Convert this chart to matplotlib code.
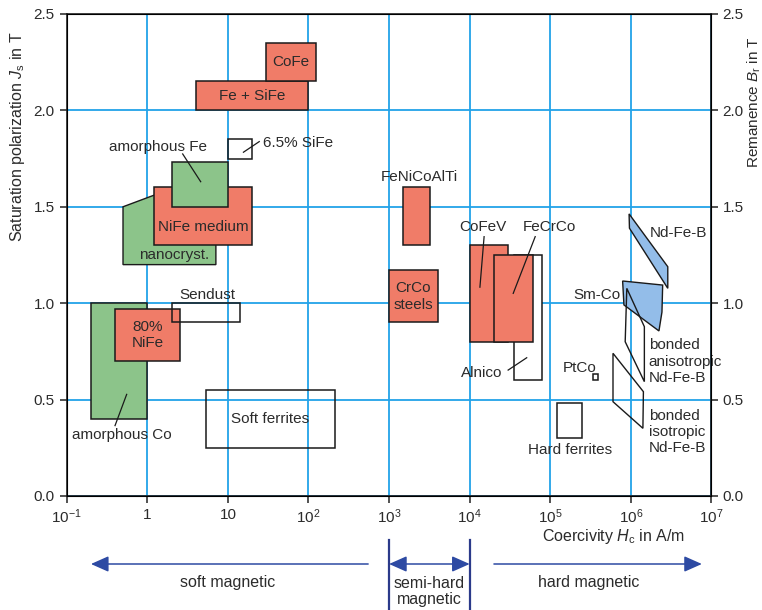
import matplotlib
matplotlib.use("Agg")
import matplotlib.pyplot as plt
from matplotlib.patches import Polygon, Rectangle, FancyArrowPatch
from matplotlib.lines import Line2D
from matplotlib import transforms

plt.rcParams['font.family'] = ['Liberation Sans', 'DejaVu Sans']
plt.rcParams['mathtext.fontset'] = 'custom'
plt.rcParams['mathtext.rm'] = 'Liberation Sans'
plt.rcParams['mathtext.it'] = 'Liberation Sans:italic'

TXT = '#2b2b2b'
RED = '#f07c68'
GREEN = '#8cc48a'
BLUE = '#93bde9'
GRID = '#22a2e8'

# Coercivity H_c (A/m) and polarization J (T) ranges of the material groups
# crystalline alloys (red)
red_names = ["Fe + SiFe", "CoFe", "NiFe medium", "80%\nNiFe",
             "FeNiCoAlTi", "CrCo\nsteels", "CoFeV", "FeCrCo"]
red_hc_lo = [4.0, 30.0, 1.21, 0.40, 1500, 1000, 1.0e4, 2.0e4]
red_hc_hi = [100.0, 123.0, 20.0, 2.55, 3200, 4000, 3.0e4, 6.1e4]
red_j_lo = [2.00, 2.15, 1.30, 0.70, 1.30, 0.90, 0.80, 0.80]
red_j_hi = [2.15, 2.35, 1.60, 0.97, 1.60, 1.17, 1.30, 1.25]

# amorphous / nanocrystalline (green)
amorph_fe_hc = [2.03, 10.0]
amorph_fe_j = [1.50, 1.73]
amorph_co_hc = [0.20, 1.0]
amorph_co_j = [0.40, 1.00]
nanocryst_hc = [0.5, 0.5, 1.21, 7.1, 7.1]
nanocryst_j = [1.20, 1.50, 1.56, 1.56, 1.20]

# open boxes
box_names = ["6.5% SiFe", "Sendust", "Soft ferrites", "Alnico", "Hard ferrites", "PtCo"]
box_hc_lo = [10.0, 2.03, 5.35, 3.5e4, 1.2e5, 3.4e5]
box_hc_hi = [20.0, 14.0, 213.0, 8.0e4, 2.5e5, 3.9e5]
box_j_lo = [1.75, 0.90, 0.25, 0.60, 0.30, 0.60]
box_j_hi = [1.85, 1.00, 0.55, 1.25, 0.48, 0.633]

# rare-earth magnets
ndfeb_hc = [9.5e5, 9.6e5, 2.87e6, 2.87e6]
ndfeb_j = [1.463, 1.389, 1.077, 1.189]
smco_hc = [7.9e5, 2.48e6, 2.43e6, 2.23e6, 8.2e5]
smco_j = [1.115, 1.094, 0.954, 0.856, 0.991]
bonded_aniso_hc = [8.9e5, 1.47e6, 1.47e6, 8.5e5]
bonded_aniso_j = [1.077, 0.878, 0.593, 0.80]
bonded_iso_hc = [6.0e5, 1.43e6, 1.41e6, 6.0e5]
bonded_iso_j = [0.74, 0.541, 0.351, 0.489]

x_ticks = [1e-1, 1, 10, 1e2, 1e3, 1e4, 1e5, 1e6, 1e7]
x_ticklabels = ['10$^{-1}$', '1', '10', '10$^{2}$', '10$^{3}$', '10$^{4}$',
                '10$^{5}$', '10$^{6}$', '10$^{7}$']
y_ticks = [0.0, 0.5, 1.0, 1.5, 2.0, 2.5]

fig = plt.figure(figsize=(7.62, 6.10), dpi=100)
ax = fig.add_axes([0.0875, 0.1869, 0.8462, 0.7902])
ax.set_xscale('log')
ax.set_xlim(1e-1, 1e7)
ax.set_ylim(0, 2.5)
ax.set_xticks(x_ticks)
ax.set_xticklabels(x_ticklabels)
ax.minorticks_off()
ax.set_yticks(y_ticks)
ax.set_yticklabels(['%.1f' % v for v in y_ticks])
ax.grid(True, color=GRID, lw=1.3, zorder=0)
ax.set_axisbelow(True)
for s in ax.spines.values():
    s.set_linewidth(1.2)
    s.set_color('#222222')
ax.tick_params(direction='out', length=5, width=1.1, labelsize=11,
               labelcolor=TXT, color='#222222')

ax2 = ax.twinx()
ax2.set_ylim(0, 2.5)
ax2.set_yticks(y_ticks)
ax2.set_yticklabels(['%.1f' % v for v in y_ticks])
ax2.tick_params(direction='out', length=5, width=1.1, labelsize=11, pad=3,
                labelcolor=TXT, color='#222222')


def rect(h0, h1, j0, j1, fc, z):
    ax.add_patch(Rectangle((h0, j0), h1 - h0, j1 - j0, facecolor=fc,
                           edgecolor='#1a1a1a', lw=1.1, zorder=z))


def poly(hs, js, fc, z):
    fill = fc is not None
    ax.add_patch(Polygon(list(zip(hs, js)), closed=True, fill=fill,
                         facecolor=fc if fill else 'none',
                         edgecolor='#1a1a1a', lw=1.0, zorder=z))


# green regions
poly(nanocryst_hc, nanocryst_j, GREEN, 2)
rect(amorph_co_hc[0], amorph_co_hc[1], amorph_co_j[0], amorph_co_j[1], GREEN, 2)

# Alnico box sits behind FeCrCo
i = box_names.index("Alnico")
rect(box_hc_lo[i], box_hc_hi[i], box_j_lo[i], box_j_hi[i], 'white', 2)

for k in range(len(red_names)):
    rect(red_hc_lo[k], red_hc_hi[k], red_j_lo[k], red_j_hi[k], RED, 3 + 0.01 * k)

rect(amorph_fe_hc[0], amorph_fe_hc[1], amorph_fe_j[0], amorph_fe_j[1], GREEN, 4)

for k, name in enumerate(box_names):
    if name == "Alnico":
        continue
    ax.add_patch(Rectangle((box_hc_lo[k], box_j_lo[k]), box_hc_hi[k] - box_hc_lo[k],
                           box_j_hi[k] - box_j_lo[k], fill=False,
                           edgecolor='#1a1a1a', lw=1.1, zorder=5))

poly(ndfeb_hc, ndfeb_j, BLUE, 4)
poly(smco_hc, smco_j, BLUE, 4)
poly(bonded_aniso_hc, bonded_aniso_j, None, 5)
poly(bonded_iso_hc, bonded_iso_j, None, 5)

fs = 11


def label(x, y, s, ha='center', va='center'):
    ax.text(x, y, s, ha=ha, va=va, fontsize=fs, color=TXT, zorder=7,
            linespacing=1.2)


def leader(x0, y0, x1, y1):
    ax.plot([x0, x1], [y0, y1], color='#1a1a1a', lw=0.9, zorder=6)


# labels inside the filled boxes
for k, name in enumerate(red_names):
    if name in ("FeNiCoAlTi", "CoFeV", "FeCrCo", "NiFe medium"):
        continue
    xc = (red_hc_lo[k] * red_hc_hi[k]) ** 0.5
    yc = 0.5 * (red_j_lo[k] + red_j_hi[k])
    label(xc, yc, name)
label(4.9, 1.397, "NiFe medium")
label(2.14, 1.25, "nanocryst.")
label(2350, 1.655, "FeNiCoAlTi")

label(27.5, 1.83, "6.5% SiFe", ha='left')
leader(24.5, 1.838, 15.6, 1.783)
label(1.36, 1.81, "amorphous Fe")
leader(2.75, 1.774, 4.6, 1.63)
label(5.5, 1.043, "Sendust")
label(0.49, 0.316, "amorphous Co")
leader(0.398, 0.365, 0.555, 0.527)
label(33.8, 0.40, "Soft ferrites")

label(1.47e4, 1.395, "CoFeV")
leader(1.51e4, 1.345, 1.34e4, 1.083)
label(9.8e4, 1.395, "FeCrCo")
leader(6.5e4, 1.345, 3.47e4, 1.051)
label(1.41e4, 0.636, "Alnico")
leader(3.0e4, 0.653, 5.1e4, 0.717)
label(1.75e5, 0.239, "Hard ferrites")
label(2.34e5, 0.665, "PtCo")
label(3.85e6, 1.363, "Nd-Fe-B")
label(7.4e5, 1.043, "Sm-Co", ha='right')
label(1.67e6, 0.697, "bonded\nanisotropic\nNd-Fe-B", ha='left')
label(1.67e6, 0.333, "bonded\nisotropic\nNd-Fe-B", ha='left')

# axis titles
fig.text(18 / 762, 1 - 137 / 610, r'Saturation polarization $J_\mathrm{s}$ in T',
         rotation=90, ha='center', va='center', fontsize=11.5, color=TXT)
fig.text(754 / 762, 1 - 102 / 610, r'Remanence $B_\mathrm{r}$ in T',
         rotation=90, ha='center', va='center', fontsize=11, color=TXT)
fig.text(613 / 762, 1 - 537 / 610, r'Coercivity $H_\mathrm{c}$ in A/m',
         ha='center', va='center', fontsize=11.5, color=TXT)

# magnetic classes below the axis
blend = transforms.blended_transform_factory(ax.transData, fig.transFigure)
ARROW = '#2d4aa3'
y_arr = 1 - 564 / 610
y_txt = 1 - 583 / 610
arrow_kw = dict(transform=blend, color=ARROW, lw=1.1, mutation_scale=12,
                clip_on=False)
fig.add_artist(FancyArrowPatch((550, y_arr), (0.2, y_arr),
                               arrowstyle='-|>,head_length=0.9,head_width=0.4',
                               shrinkA=0, shrinkB=0, **arrow_kw))
fig.add_artist(FancyArrowPatch((2.0e4, y_arr), (7.6e6, y_arr),
                               arrowstyle='-|>,head_length=0.9,head_width=0.4',
                               shrinkA=0, shrinkB=0, **arrow_kw))
fig.add_artist(FancyArrowPatch((1e3, y_arr), (1e4, y_arr),
                               arrowstyle='<|-|>,head_length=0.9,head_width=0.4',
                               shrinkA=0, shrinkB=0, **arrow_kw))
for xv in (1e3, 1e4):
    fig.add_artist(Line2D([xv, xv], [0, 1 - 540 / 610], transform=blend,
                          color='#2b3a8a', lw=1.6))

ax.text(10, y_txt, 'soft magnetic', transform=blend, ha='center', va='center',
        fontsize=11.5, color=TXT)
ax.text(3162, 1 - 591.5 / 610, 'semi-hard\nmagnetic', transform=blend,
        ha='center', va='center', fontsize=11.5, color=TXT, linespacing=1.1)
ax.text(2.96e5, y_txt, 'hard magnetic', transform=blend, ha='center',
        va='center', fontsize=11.5, color=TXT)

fig.savefig('out.png', dpi=100)
